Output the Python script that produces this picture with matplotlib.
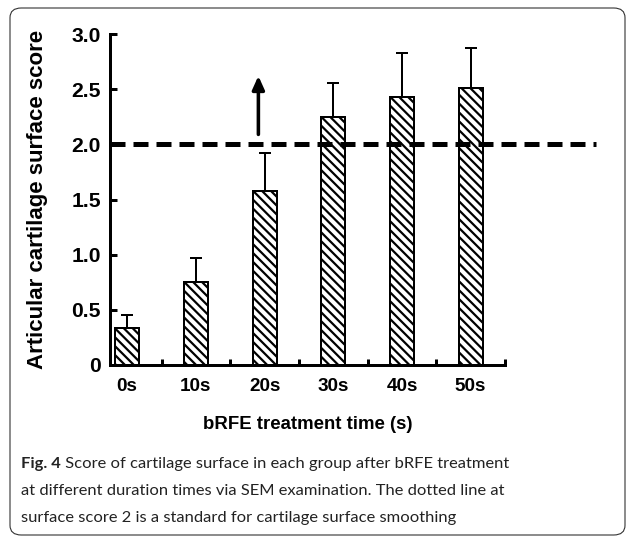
import matplotlib
matplotlib.use("Agg")
import matplotlib.pyplot as plt
from matplotlib.patches import FancyBboxPatch

# data
groups = ["0s", "10s", "20s", "30s", "40s", "50s"]
scores = [0.335, 0.75, 1.575, 2.245, 2.43, 2.515]
errors = [0.115, 0.22, 0.345, 0.315, 0.40, 0.355]
threshold = 2.0
yticks = [0, 0.5, 1.0, 1.5, 2.0, 2.5, 3.0]
ytick_labels = ["0", "0.5", "1.0", "1.5", "2.0", "2.5", "3.0"]

W, H, DPI = 627, 536, 80
plt.rcParams["font.family"] = ["Liberation Sans", "DejaVu Sans"]
plt.rcParams["hatch.linewidth"] = 2.0

fig = plt.figure(figsize=(W / DPI, H / DPI), dpi=DPI)
ax = fig.add_axes([110 / W, (H - 365) / H, 395 / W, 331 / H])

x = list(range(len(groups)))
ax.bar(x, scores, width=0.35, color="white", edgecolor="black",
       linewidth=1.8, hatch="\\\\\\", zorder=2)
ax.errorbar(x, scores, yerr=[[0] * len(errors), errors], fmt="none",
            ecolor="black", elinewidth=1.8, capsize=5.5, capthick=1.8, zorder=1)

# standard line at score 2
ax.plot([-0.25, 6.82], [threshold, threshold], color="black", lw=4.5,
        linestyle=(0, (3, 1.6)), clip_on=False, zorder=3)
ax.annotate("", xy=(1.91, 2.62), xytext=(1.91, 2.09),
            arrowprops=dict(arrowstyle="-|>,head_width=0.45,head_length=1.0",
                            color="black", lw=3.2, shrinkA=0, shrinkB=0))

ax.set_xlim(-0.25, 5.5)
ax.set_ylim(0, 3.0)
for s in ["top", "right"]:
    ax.spines[s].set_visible(False)
for s in ["left", "bottom"]:
    ax.spines[s].set_linewidth(2.7)

ax.set_yticks(yticks)
ax.set_yticklabels(ytick_labels, fontsize=19, fontweight="bold")
ax.tick_params(axis="y", direction="in", length=6, width=2.7, pad=8)
ax.set_xticks(x)
ax.set_xticklabels(groups, fontsize=17, fontweight="bold")
ax.tick_params(axis="x", which="major", length=0, pad=12)
ax.set_xticks([i + 0.5 for i in x], minor=True)
ax.tick_params(axis="x", which="minor", direction="in", length=5, width=2.7)

ax.set_ylabel("Articular cartilage surface score", fontsize=20,
              fontweight="bold")
ax.yaxis.set_label_coords(-62 / 395, 0.5)
ax.set_xlabel("bRFE treatment time (s)", fontsize=16.8, fontweight="bold",
              labelpad=19)

# rounded frame around figure + caption
frame = FancyBboxPatch((10 / W, 1 / H), 615 / W, 527 / H,
                       boxstyle="round,pad=0,rounding_size=0.018",
                       transform=fig.transFigure, fill=False,
                       edgecolor="#333333", lw=1.0)
fig.patches.append(frame)

cap_font = ["Lato", "DejaVu Sans"]
cap_size = 14.8
cx = 21 / W
t = fig.text(cx, 1 - 468 / H, "Fig. 4", fontsize=cap_size, fontweight="bold",
             family=cap_font, va="baseline", color="#222222")
fig.canvas.draw()
bb = t.get_window_extent(fig.canvas.get_renderer())
fig.text(bb.x1 / W, 1 - 468 / H,
         " Score of cartilage surface in each group after bRFE treatment",
         fontsize=cap_size, family=cap_font, va="baseline", color="#222222")
fig.text(cx, 1 - 495 / H,
         "at different duration times via SEM examination. The dotted line at",
         fontsize=cap_size, family=cap_font, va="baseline", color="#222222")
fig.text(cx, 1 - 522 / H,
         "surface score 2 is a standard for cartilage surface smoothing",
         fontsize=cap_size, family=cap_font, va="baseline", color="#222222")

fig.savefig("out.png", dpi=DPI)
